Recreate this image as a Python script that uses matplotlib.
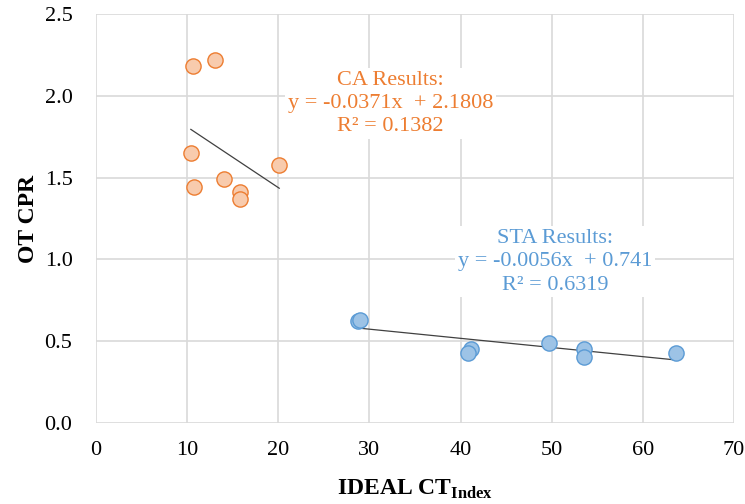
import matplotlib.pyplot as plt
import numpy as np

plt.rcParams['font.family'] = ['Liberation Serif', 'DejaVu Serif']
plt.rcParams['mathtext.fontset'] = 'custom'
plt.rcParams['mathtext.rm'] = 'Liberation Serif'
plt.rcParams['mathtext.bf'] = 'Liberation Serif:bold'

# CA results (orange)
ca_x = [10.6, 13.1, 10.4, 10.7, 14.0, 15.8, 15.8, 20.1]
ca_y = [2.18, 2.22, 1.65, 1.44, 1.49, 1.41, 1.37, 1.58]
ca_slope, ca_icpt = -0.0371, 2.1808

# STA results (blue)
sta_x = [28.8, 29.0, 41.1, 40.8, 49.7, 53.5, 53.5, 63.7]
sta_y = [0.62, 0.63, 0.45, 0.43, 0.49, 0.45, 0.40, 0.43]
sta_slope, sta_icpt = -0.0056, 0.741

x_ticks = [0, 10, 20, 30, 40, 50, 60, 70]
y_ticks = [0.0, 0.5, 1.0, 1.5, 2.0, 2.5]

orange = '#ED7D31'
blue = '#5B9BD5'

fig = plt.figure(figsize=(7.45, 5.04), dpi=100)
ax = fig.add_axes([0.129, 0.161, 0.856, 0.811])

ax.scatter(ca_x, ca_y, s=120, color='#F8CBAD', edgecolor=orange, linewidth=1.0, zorder=3)
ax.scatter(sta_x, sta_y, s=120, color='#9DC3E6', edgecolor=blue, linewidth=1.0, zorder=3)

# trendlines
for xs, m, b in [(ca_x, ca_slope, ca_icpt), (sta_x, sta_slope, sta_icpt)]:
    xx = np.array([min(xs), max(xs)])
    ax.plot(xx, m * xx + b, color='#404040', linewidth=0.9, zorder=2)

ax.set_xlim(0, 70)
ax.set_ylim(0, 2.5)
ax.set_xticks(x_ticks)
ax.set_yticks(y_ticks)
ax.set_yticklabels([f'{v:.1f}' for v in y_ticks])
ax.tick_params(length=0, labelsize=16)
ax.tick_params(axis='x', pad=13)
ax.tick_params(axis='y', pad=17)
ax.grid(True, color='#D9D9D9', linewidth=1.2)
ax.set_axisbelow(True)
for sp in ax.spines.values():
    sp.set_visible(False)

ax.set_xlabel(r'IDEAL CT$_{\mathbf{Index}}$', fontsize=17, fontweight='bold', labelpad=13)
ax.set_ylabel('OT CPR', fontsize=17, fontweight='bold', labelpad=4)

bbox = dict(facecolor='white', edgecolor='none', pad=2)
ax.text(32.3, 1.955, 'CA Results:\ny = -0.0371x  + 2.1808\nR² = 0.1382',
        ha='center', va='center', color=orange, fontsize=16, linespacing=1.3, bbox=bbox)
ax.text(50.4, 0.985, 'STA Results:\ny = -0.0056x  + 0.741\nR² = 0.6319',
        ha='center', va='center', color=blue, fontsize=16, linespacing=1.3, bbox=bbox)

fig.savefig('out.png', dpi=100)
